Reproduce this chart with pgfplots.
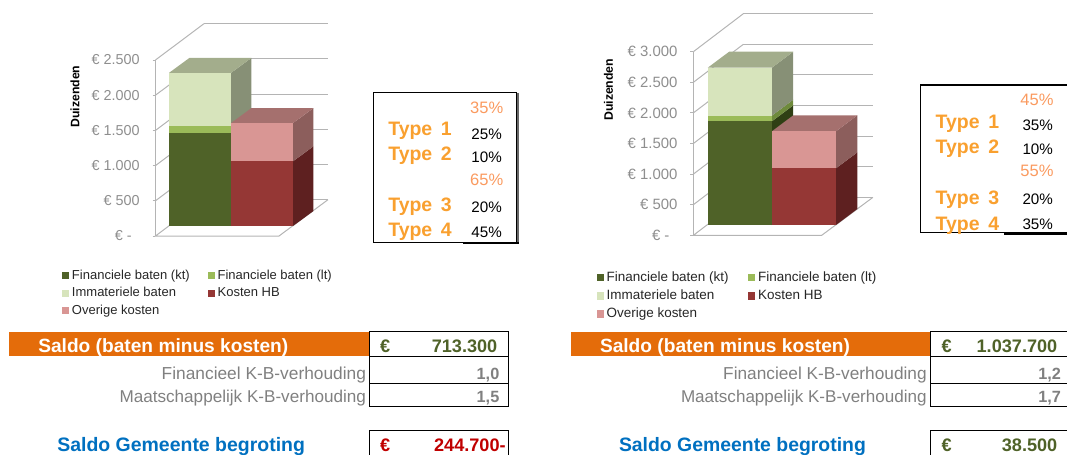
\documentclass[border=0pt]{standalone}
\usepackage{pgfplots}
\pgfplotsset{compat=1.18}
\usepackage{fontspec}
\setmainfont{Liberation Sans}
\definecolor{dkg}{HTML}{4F6228}
\definecolor{ltg}{HTML}{9BBB59}
\definecolor{pale}{HTML}{D7E4BC}
\definecolor{red3}{HTML}{953735}
\definecolor{pink3}{HTML}{D99694}
\definecolor{dkgS}{HTML}{2F3F14}
\definecolor{ltgS}{HTML}{6E8A3C}
\definecolor{paleS}{HTML}{879076}
\definecolor{paleT}{HTML}{A3AD8C}
\definecolor{redS}{HTML}{5E2020}
\definecolor{pinkS}{HTML}{8C5E5C}
\definecolor{pinkT}{HTML}{A5706E}
\definecolor{wall}{HTML}{B4B4B4}
\definecolor{ticktxt}{HTML}{8E8E8E}
\definecolor{band}{HTML}{E46C0A}
\definecolor{pct}{HTML}{FA9A5F}
\definecolor{typ}{HTML}{F9A02F}
\definecolor{blue3}{HTML}{0070C0}
\definecolor{crim}{HTML}{C00000}
\newcommand\fs[1]{\fontsize{#1}{#1}\selectfont}
\pgfplotsset{
  wallline/.style={wall,line width=0.75pt,forget plot},
  frame3d/.style={scale only axis,clip=false,axis x line=none,axis y line=left,
    axis line style={-,wall,line width=0.75pt},enlargelimits=false,
    ytick align=outside,major tick length=2.2pt,
    tick style={wall,line width=0.75pt},
    yticklabel style={text=ticktxt,inner xsep=0pt,xshift=-9.5pt},
  },
  bars3d/.style={scale only axis,clip=false,hide axis,enlargelimits=false,ybar stacked,
    reverse stacked plots=false,
    xmin=-0.5,xmax=1.5,ymin=0,
    legend image code/.code={\fill[##1] (0pt,-2.7pt) rectangle (5.5pt,2.7pt);},
    legend cell align=left,
    legend style={draw=none,fill=none,legend columns=2,anchor=north west,
      inner sep=0pt,outer sep=0pt,
      nodes={inner sep=0pt,text height=7.5pt,text depth=2pt,text=black!85},
      /tikz/column 1/.style={column sep=2pt},
      /tikz/column 3/.style={column sep=2pt}},
  },
  face/.style={stack plots=false,sharp plot,draw=none,forget plot,mark=none},
}
\begin{document}
\begin{tikzpicture}[x=0.75pt,y=-0.75pt]
\path[use as bounding box] (0,0) rectangle (1067,454);

% ---------- LEFT chart: frame ----------
\begin{axis}[frame3d,at={(116.6pt,-177pt)},anchor=south west,
  width=129.4pt,height=132pt,xmin=155.5,xmax=328,ymin=0,ymax=2500,
  ytick={0,500,1000,1500,2000,2500},
  yticklabels={{€ -\hspace*{6pt}},€ 500,€ 1.000,€ 1.500,€ 2.000,€ 2.500},
  tick label style={font=\fs{10.8}},
  ylabel={Duizenden},
  ylabel style={at={(axis cs:75,1981)},anchor=center,rotate=0,font=\bfseries\fs{9.2},text=black},
]
\addplot[wallline] coordinates {(204,516)(328,516)};
\addplot[wallline] coordinates {(204,1016)(328,1016)};
\addplot[wallline] coordinates {(204,1516)(328,1516)};
\addplot[wallline] coordinates {(204,2016)(328,2016)};
\addplot[wallline] coordinates {(204,2516)(328,2516)};
\addplot[wallline] coordinates {(204,3016)(328,3016)};
\addplot[wallline] coordinates {(155.5,500)(204,1016)};
\addplot[wallline] coordinates {(155.5,1000)(204,1516)};
\addplot[wallline] coordinates {(155.5,1500)(204,2016)};
\addplot[wallline] coordinates {(155.5,2000)(204,2516)};
\addplot[wallline] coordinates {(155.5,2500)(204,3016)};
\addplot[wallline] coordinates {(204,516)(155.5,0)(279,0)(328,516)};
\end{axis}

% ---------- LEFT chart: bars ----------
\begin{axis}[bars3d,at={(126.75pt,-169.5pt)},anchor=south west,
  width=93pt,height=132pt,ymax=2500,bar width=46.5pt,
  legend style={at={(-0.863,-0.245)},font=\fs{9.75},row sep=3.75pt,
    /tikz/column 2/.style={column sep=13.4pt}},
]
\addplot[face,fill=dkgS] coordinates {(0.5,0)(0.83,213)(0.83,1538)(0.5,1325)} --cycle;
\addplot[face,fill=ltgS] coordinates {(0.5,1325)(0.83,1538)(0.83,1638)(0.5,1425)} --cycle;
\addplot[face,fill=paleS] coordinates {(0.5,1425)(0.83,1638)(0.83,2388)(0.5,2175)} --cycle;
\addplot[face,fill=paleT] coordinates {(-0.5,2175)(0.5,2175)(0.83,2388)(-0.17,2388)} --cycle;
\addplot[face,fill=redS] coordinates {(1.5,0)(1.83,213)(1.83,1132)(1.5,919)} --cycle;
\addplot[face,fill=pinkS] coordinates {(1.5,919)(1.83,1132)(1.83,1675)(1.5,1462)} --cycle;
\addplot[face,fill=pinkT] coordinates {(0.5,1462)(1.5,1462)(1.83,1675)(0.83,1675)} --cycle;
\addplot[fill=dkg,draw=none] coordinates {(0,1325)(1,0)};
\addplot[fill=ltg,draw=none] coordinates {(0,100)(1,0)};
\addplot[fill=pale,draw=none] coordinates {(0,750)(1,0)};
\addplot[fill=red3,draw=none] coordinates {(0,0)(1,919)};
\addplot[fill=pink3,draw=none] coordinates {(0,0)(1,543)};
\legend{Financiele baten (kt),Financiele baten (lt),Immateriele baten,Kosten HB,Overige kosten}
\end{axis}

% ---------- RIGHT chart: frame ----------
\begin{axis}[frame3d,at={(520pt,-176.5pt)},anchor=south west,
  width=134.7pt,height=137.7pt,xmin=693.3,xmax=873,ymin=0,ymax=3000,
  ytick={0,500,1000,1500,2000,2500,3000},
  yticklabels={{€ -\hspace*{6pt}},€ 500,€ 1.000,€ 1.500,€ 2.000,€ 2.500,€ 3.000},
  tick label style={font=\fs{11.2}},
  ylabel={Duizenden},
  ylabel style={at={(axis cs:608.3,2379)},anchor=center,rotate=0,font=\bfseries\fs{9.2},text=black},
]
\addplot[wallline] coordinates {(743.3,621)(873,621)};
\addplot[wallline] coordinates {(743.3,1121)(873,1121)};
\addplot[wallline] coordinates {(743.3,1621)(873,1621)};
\addplot[wallline] coordinates {(743.3,2121)(873,2121)};
\addplot[wallline] coordinates {(743.3,2621)(873,2621)};
\addplot[wallline] coordinates {(743.3,3121)(873,3121)};
\addplot[wallline] coordinates {(743.3,3621)(873,3621)};
\addplot[wallline] coordinates {(693.3,500)(743.3,1121)};
\addplot[wallline] coordinates {(693.3,1000)(743.3,1621)};
\addplot[wallline] coordinates {(693.3,1500)(743.3,2121)};
\addplot[wallline] coordinates {(693.3,2000)(743.3,2621)};
\addplot[wallline] coordinates {(693.3,2500)(743.3,3121)};
\addplot[wallline] coordinates {(693.3,3000)(743.3,3621)};
\addplot[wallline] coordinates {(743.3,621)(693.3,0)(821.7,0)(873,621)};
\end{axis}

% ---------- RIGHT chart: bars ----------
\begin{axis}[bars3d,at={(530.8pt,-168.75pt)},anchor=south west,
  width=96.2pt,height=137.7pt,ymax=3000,bar width=48.1pt,
  legend style={at={(-0.866,-0.253)},font=\fs{10.1},row sep=4.1pt,
    /tikz/column 2/.style={column sep=14.6pt}},
]
\addplot[face,fill=dkgS] coordinates {(0.5,0)(0.833,261)(0.833,1955)(0.5,1694)} --cycle;
\addplot[face,fill=ltgS] coordinates {(0.5,1694)(0.833,1955)(0.833,2047)(0.5,1786)} --cycle;
\addplot[face,fill=paleS] coordinates {(0.5,1786)(0.833,2047)(0.833,2831)(0.5,2570)} --cycle;
\addplot[face,fill=paleT] coordinates {(-0.5,2570)(0.5,2570)(0.833,2831)(-0.167,2831)} --cycle;
\addplot[face,fill=redS] coordinates {(1.5,0)(1.833,261)(1.833,1187)(1.5,926)} --cycle;
\addplot[face,fill=pinkS] coordinates {(1.5,926)(1.833,1187)(1.833,1792)(1.5,1531)} --cycle;
\addplot[face,fill=pinkT] coordinates {(0.5,1531)(1.5,1531)(1.833,1792)(0.833,1792)} --cycle;
\addplot[fill=dkg,draw=none] coordinates {(0,1694)(1,0)};
\addplot[fill=ltg,draw=none] coordinates {(0,92)(1,0)};
\addplot[fill=pale,draw=none] coordinates {(0,784)(1,0)};
\addplot[fill=red3,draw=none] coordinates {(0,0)(1,926)};
\addplot[fill=pink3,draw=none] coordinates {(0,0)(1,605)};
\legend{Financiele baten (kt),Financiele baten (lt),Immateriele baten,Kosten HB,Overige kosten}
\end{axis}

% ---------- Type boxes ----------
\fill[gray!80!black] (516,93) rectangle (519,243);
\draw[black,line width=1.1pt] (373.5,92.7) rectangle (516.5,242.5);
\draw[black,line width=1.6pt] (463,243) -- (519,243);
\begin{scope}[every node/.style={inner sep=0pt,outer sep=0pt}]
\node[anchor=base west,text=typ,font=\bfseries\fs{14.6}] at (388.3,135) {Type\, 1};
\node[anchor=base west,text=typ,font=\bfseries\fs{14.6}] at (388.3,160) {Type\, 2};
\node[anchor=base west,text=typ,font=\bfseries\fs{14.6}] at (388.3,211) {Type\, 3};
\node[anchor=base west,text=typ,font=\bfseries\fs{14.6}] at (388.3,236.7) {Type\, 4};
\node[anchor=base,text=pct,font=\fs{12.4}] at (486.7,113.3) {35\%};
\node[anchor=base,text=black,font=\fs{11.4}] at (486.7,139) {25\%};
\node[anchor=base,text=black,font=\fs{11.4}] at (486.7,162.7) {10\%};
\node[anchor=base,text=pct,font=\fs{12.4}] at (486.7,185.7) {65\%};
\node[anchor=base,text=black,font=\fs{11.4}] at (486.7,212) {20\%};
\node[anchor=base,text=black,font=\fs{11.4}] at (486.7,237) {45\%};
\end{scope}
\draw[black,line width=1.1pt] (1067,85) -- (920.7,85) -- (920.7,232.7) -- (1004,232.7);
\draw[black,line width=1.8pt] (1004,233.3) -- (1067,233.3);
\begin{scope}[every node/.style={inner sep=0pt,outer sep=0pt}]
\node[anchor=base west,text=typ,font=\bfseries\fs{14.6}] at (935.7,128.3) {Type\, 1};
\node[anchor=base west,text=typ,font=\bfseries\fs{14.6}] at (935.7,153.3) {Type\, 2};
\node[anchor=base west,text=typ,font=\bfseries\fs{14.6}] at (935.7,204.3) {Type\, 3};
\node[anchor=base west,text=typ,font=\bfseries\fs{14.6}] at (935.7,230) {Type\, 4};
\node[anchor=base,text=pct,font=\fs{12.4}] at (1037,105) {45\%};
\node[anchor=base,text=black,font=\fs{11.4}] at (1037.7,130) {35\%};
\node[anchor=base,text=black,font=\fs{11.4}] at (1037.7,154) {10\%};
\node[anchor=base,text=pct,font=\fs{12.4}] at (1037,176.7) {55\%};
\node[anchor=base,text=black,font=\fs{11.4}] at (1037.7,204) {20\%};
\node[anchor=base,text=black,font=\fs{11.4}] at (1037.7,229.3) {35\%};
\end{scope}

% ---------- Left tables ----------
\fill[band] (9,331.7) rectangle (369.3,356.3);
\draw[black,line width=1.1pt] (369.3,331.7) rectangle (508.3,356.3);
\draw[black,line width=0.8pt] (369.3,356.8) rectangle (508.3,383.3);
\draw[black,line width=0.8pt] (369.3,383.3) rectangle (508.3,406.7);
\draw[black,line width=1.2pt] (369.3,456) -- (369.3,430.3) -- (508.3,430.3) -- (508.3,456);
\begin{scope}[every node/.style={inner sep=0pt,outer sep=0pt}]
\node[anchor=base west,text=white,font=\bfseries\fs{14.36}] at (38.3,352.3) {Saldo (baten minus kosten)};
\node[anchor=base west,text=dkg,font=\bfseries\fs{13.6}] at (380,352.3) {€};
\node[anchor=base east,text=dkg,font=\bfseries\fs{13.6}] at (497.3,352.3) {713.300};
\node[anchor=base east,text=gray,font=\fs{13}] at (366,379.3) {Financieel K-B-verhouding};
\node[anchor=base east,text=gray,font=\fs{12.84}] at (366,402.3) {Maatschappelijk K-B-verhouding};
\node[anchor=base east,text=gray,font=\bfseries\fs{12.2}] at (499.3,379.3) {1,0};
\node[anchor=base east,text=gray,font=\bfseries\fs{12.2}] at (499.3,402.3) {1,5};
\node[anchor=base west,text=blue3,font=\bfseries\fs{14.6}] at (57.3,451.7) {Saldo Gemeente begroting};
\node[anchor=base west,text=crim,font=\bfseries\fs{13.6}] at (380,451) {€};
\node[anchor=base east,text=crim,font=\bfseries\fs{13.6}] at (505.7,451) {244.700-};
\end{scope}

% ---------- Right tables ----------
\fill[band] (570.7,331.7) rectangle (930.7,356.3);
\draw[black,line width=1.1pt] (1068,331.7) -- (930.7,331.7) -- (930.7,356.3) -- (1068,356.3);
\draw[black,line width=0.8pt] (1068,356.8) -- (930.7,356.8) -- (930.7,383.3) -- (1068,383.3);
\draw[black,line width=0.8pt] (930.7,383.3) -- (930.7,406.7) -- (1068,406.7);
\draw[black,line width=1pt] (930.7,456) -- (930.7,430.3) -- (1068,430.3);
\begin{scope}[every node/.style={inner sep=0pt,outer sep=0pt}]
\node[anchor=base west,text=white,font=\bfseries\fs{14.36}] at (600,352.3) {Saldo (baten minus kosten)};
\node[anchor=base west,text=dkg,font=\bfseries\fs{13.6}] at (941.7,352.3) {€};
\node[anchor=base east,text=dkg,font=\bfseries\fs{13.6}] at (1057.3,352.3) {1.037.700};
\node[anchor=base east,text=gray,font=\fs{12.95}] at (926.7,379.3) {Financieel K-B-verhouding};
\node[anchor=base east,text=gray,font=\fs{12.8}] at (926.7,402.3) {Maatschappelijk K-B-verhouding};
\node[anchor=base east,text=gray,font=\bfseries\fs{12.2}] at (1061,379.3) {1,2};
\node[anchor=base east,text=gray,font=\bfseries\fs{12.2}] at (1061,402.3) {1,7};
\node[anchor=base west,text=blue3,font=\bfseries\fs{14.55}] at (619,451.7) {Saldo Gemeente begroting};
\node[anchor=base west,text=dkg,font=\bfseries\fs{13.6}] at (941.7,451) {€};
\node[anchor=base east,text=dkg,font=\bfseries\fs{13.6}] at (1057.3,451) {38.500};
\end{scope}
\end{tikzpicture}
\end{document}
